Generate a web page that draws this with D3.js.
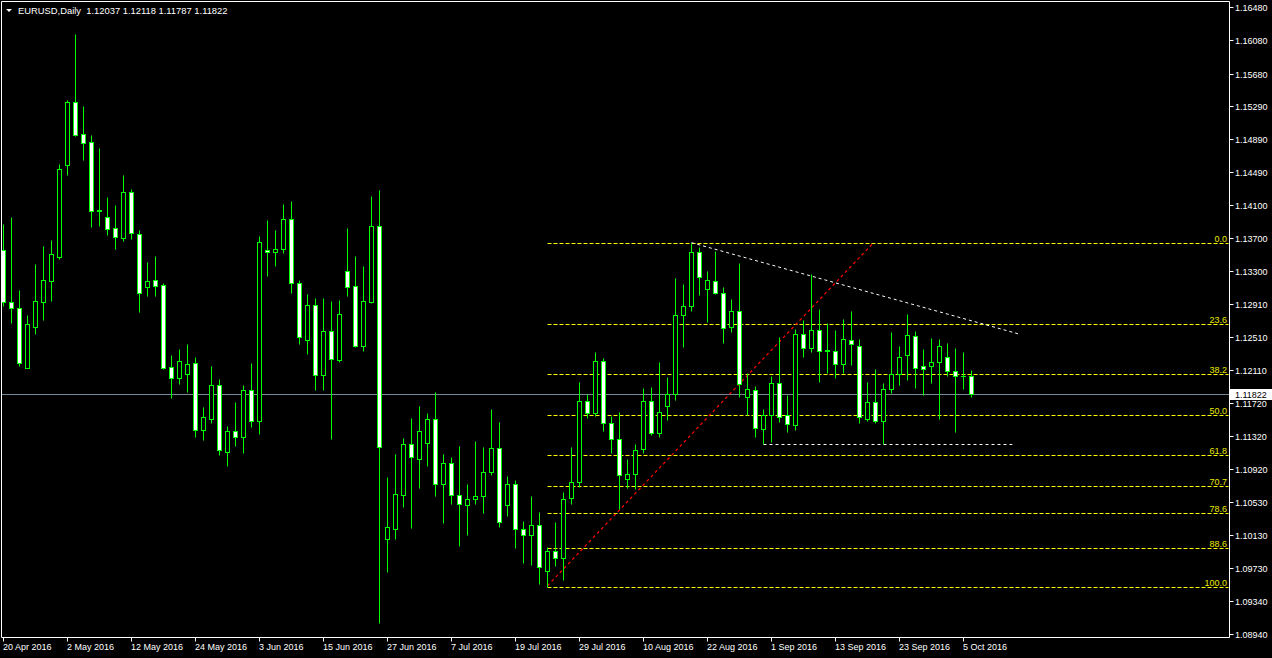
<!DOCTYPE html>
<html>
<head>
<meta charset="utf-8">
<script src="https://cdn.jsdelivr.net/npm/d3@7"></script>
<style>
html,body{margin:0;padding:0;background:#000;overflow:hidden;}
svg{display:block;}
text{font-family:"Liberation Sans",Arial,sans-serif;font-size:9px;}
</style>
</head>
<body>
<script>
// ---------- DATA (EURUSD Daily, 20 Apr 2016 .. 6 Oct 2016) ----------
const symbolTitle = "EURUSD,Daily";
const lastQuote = ["1.12037","1.12118","1.11787","1.11822"];

const openP = [
1.13558,1.12929,1.12857,1.12142,1.12628,1.12936,1.13189,1.13477,1.14583,1.15334,
1.14949,1.14853,1.14039,1.13951,1.13819,1.13706,1.14252,1.13747,1.13109,1.13193,
1.13133,1.12147,1.12015,1.12070,1.12195,1.11389,1.11529,1.11931,1.11125,1.11377,
1.11305,1.11870,1.11498,1.13554,1.13530,1.13566,1.13927,1.13157,1.12479,1.12893,
1.12058,1.12580,1.12239,1.13302,1.13121,1.12407,1.12936,1.13843,1.10086,1.10207,
1.10615,1.11221,1.11048,1.11233,1.11522,1.10740,1.10993,1.10608,1.10488,1.10560,
1.10596,1.10885,1.11173,1.10488,1.10740,1.10199,1.10127,1.10247,1.09694,1.09935,
1.09851,1.10572,1.10765,1.11738,1.11594,1.12220,1.11474,1.11281,1.10801,1.10861,
1.11161,1.11738,1.11353,1.11678,1.11823,1.12773,1.12881,1.13530,1.13085,1.13181,
1.13037,1.12628,1.12821,1.11786,1.11870,1.11409,1.11570,1.11955,1.11570,1.11457,
1.12544,1.12376,1.12592,1.12352,1.12340,1.12183,1.12472,1.12400,1.11522,1.11726,
1.11498,1.11882,1.12063,1.12291,1.12520,1.12159,1.12159,1.12207,1.12267,1.12099,
1.12039,1.12037];
const highP = [
1.13870,1.13955,1.13077,1.12776,1.13389,1.13606,1.13678,1.14592,1.15362,1.16155,
1.15289,1.14941,1.14784,1.14195,1.14099,1.14460,1.14291,1.13798,1.13413,1.13485,
1.13161,1.12295,1.12367,1.12427,1.12271,1.11666,1.12163,1.12007,1.11441,1.11730,
1.11934,1.12199,1.13726,1.13919,1.13798,1.14111,1.14147,1.13202,1.13029,1.12981,
1.12981,1.12945,1.12957,1.13822,1.13485,1.13365,1.14207,1.14279,1.10828,1.11105,
1.11297,1.11538,1.11682,1.11598,1.11850,1.11105,1.11069,1.11201,1.10744,1.11261,
1.11189,1.11646,1.11489,1.10840,1.10792,1.10303,1.10600,1.10407,1.09986,1.10287,
1.10648,1.11189,1.11970,1.11823,1.12331,1.12259,1.11562,1.11610,1.11045,1.11225,
1.11898,1.11910,1.12211,1.12031,1.13221,1.13149,1.13646,1.13590,1.13302,1.13546,
1.13109,1.12969,1.13402,1.12075,1.11922,1.11646,1.12043,1.12512,1.11814,1.12604,
1.12716,1.13269,1.12848,1.12680,1.12596,1.12728,1.12824,1.12487,1.11970,1.12127,
1.11958,1.12572,1.12403,1.12788,1.12584,1.12367,1.12500,1.12487,1.12439,1.12379,
1.12331,1.12118];
const lowP = [
1.12884,1.12684,1.12166,1.12139,1.12551,1.12716,1.12945,1.13450,1.14463,1.14929,
1.14640,1.13838,1.13846,1.13738,1.13570,1.13670,1.13690,1.12816,1.13008,1.13008,
1.12127,1.11782,1.11950,1.11854,1.11312,1.11277,1.11481,1.11093,1.10964,1.11204,
1.11120,1.11433,1.11349,1.13249,1.13365,1.13525,1.13045,1.12428,1.12311,1.11874,
1.11874,1.11289,1.12211,1.13004,1.12395,1.12347,1.12921,1.09076,1.09686,1.10086,
1.10471,1.10219,1.10699,1.10964,1.10603,1.10279,1.10507,1.10002,1.10134,1.10500,
1.10399,1.10856,1.10231,1.10363,1.09978,1.09798,1.09774,1.09545,1.09505,1.09762,
1.09593,1.10507,1.10712,1.11541,1.11565,1.11381,1.11117,1.10443,1.10699,1.10687,
1.11113,1.11333,1.11305,1.11517,1.11758,1.12395,1.12828,1.13020,1.12696,1.13025,
1.12436,1.12575,1.11794,1.11570,1.11305,1.11221,1.11249,1.11493,1.11373,1.11393,
1.12271,1.12331,1.11970,1.12079,1.12019,1.12079,1.12175,1.11481,1.11498,1.11481,
1.11221,1.11834,1.11931,1.11995,1.11895,1.11811,1.11955,1.11522,1.12039,1.11366,
1.11882,1.11787];
const closeP = [
1.12936,1.12857,1.12199,1.12668,1.12941,1.13197,1.13506,1.14528,1.15334,1.14941,
1.14848,1.14030,1.14027,1.13807,1.13711,1.14252,1.13759,1.13037,1.13181,1.13129,
1.12142,1.12015,1.12220,1.12183,1.11389,1.11546,1.11931,1.11149,1.11377,1.11305,
1.11870,1.11498,1.13650,1.13530,1.13566,1.13927,1.13157,1.12508,1.12893,1.12051,
1.12580,1.12244,1.12785,1.13109,1.12407,1.12941,1.13843,1.11193,1.10223,1.10624,
1.11221,1.11065,1.11377,1.11522,1.10740,1.10993,1.10608,1.10500,1.10560,1.10596,
1.10885,1.11173,1.10284,1.10740,1.10199,1.10127,1.10247,1.09750,1.09935,1.09851,
1.10560,1.10765,1.11738,1.11594,1.12220,1.11474,1.11281,1.10849,1.10861,1.11149,
1.11738,1.11353,1.11606,1.11823,1.12773,1.12881,1.13530,1.13229,1.13193,1.13037,
1.12616,1.12821,1.11943,1.11882,1.11414,1.11570,1.11955,1.11546,1.11462,1.12544,
1.12376,1.12592,1.12340,1.12340,1.12183,1.12484,1.12424,1.11546,1.11726,1.11498,
1.11882,1.12063,1.12267,1.12532,1.12135,1.12123,1.12207,1.12400,1.12099,1.12039,
1.12039,1.11822];

// date labels, one every 8 bars
const xTickLabels = ["20 Apr 2016","2 May 2016","12 May 2016","24 May 2016","3 Jun 2016",
  "15 Jun 2016","27 Jun 2016","7 Jul 2016","19 Jul 2016","29 Jul 2016","10 Aug 2016",
  "22 Aug 2016","1 Sep 2016","13 Sep 2016","23 Sep 2016","5 Oct 2016"];
const xTickStep = 8;

const yTickLabels = ["1.16480","1.16080","1.15680","1.15290","1.14890","1.14490","1.14100",
  "1.13700","1.13300","1.12910","1.12510","1.12110","1.11720","1.11320","1.10920","1.10530",
  "1.10130","1.09730","1.09340","1.08940"];

const currentPrice = 1.11822;

// Fibonacci retracement anchors (bar index, price)
const fibLow = [68, 1.09505];
const fibHigh = [86, 1.13646];
const fibLevels = [0.0, 23.6, 38.2, 50.0, 61.8, 70.7, 78.6, 88.6, 100.0];
const fibLabels = ["0.0","23.6","38.2","50.0","61.8","70.7","78.6","88.6","100.0"];

// trend lines: [[bar, price],[bar, price]]
const redTrend = [[68, 1.09520], [108.7, 1.13640]];
const whiteTrend = [[86, 1.13646], [126.8, 1.12551]];
const whiteSupport = [[95, 1.11221], [126.1, 1.11221]];

// ---------- DRAW ----------
const W = 1272, H = 658;
const plotR = 1229.5, plotB = 637.5;

const svg = d3.select("body").append("svg").attr("width", W).attr("height", H);
svg.append("rect").attr("width", W).attr("height", H).attr("fill", "#000");

const y = d3.scaleLinear().domain([1.0894, 1.1648]).range([634, 7]);
const x = d3.scaleLinear().domain([0, 1]).range([3.5, 11.5]);
const py = v => Math.round(y(v)) + 0.5;

svg.append("clipPath").attr("id", "plot").append("rect")
  .attr("x", 2).attr("y", 2).attr("width", plotR - 2).attr("height", plotB - 2);
const g = svg.append("g").attr("clip-path", "url(#plot)");

// current price line
g.append("line").attr("x1", 0).attr("x2", plotR).attr("y1", py(currentPrice)).attr("y2", py(currentPrice))
  .attr("stroke", "#778899").attr("stroke-width", 1);

// Fibonacci levels
const fibRange = fibHigh[1] - fibLow[1];
const fibX0 = x(Math.min(fibLow[0], fibHigh[0]));
fibLevels.forEach((lv, i) => {
  const p = fibHigh[1] - fibRange * lv / 100;
  g.append("line").attr("x1", fibX0).attr("x2", plotR - 1).attr("y1", py(p)).attr("y2", py(p))
    .attr("stroke", "#ffff00").attr("stroke-width", 1).attr("stroke-dasharray", "4,2");
  g.append("text").attr("x", 1227).attr("y", py(p) - 2).attr("text-anchor", "end")
    .attr("fill", "#e8e800").text(fibLabels[i]);
});

// trend lines
const line = d3.line().x(d => x(d[0])).y(d => y(d[1]));
g.append("path").attr("d", line(redTrend)).attr("fill", "none")
  .attr("stroke", "#ff0000").attr("stroke-width", 1.2).attr("stroke-dasharray", "3,3");
g.append("path").attr("d", line(whiteTrend)).attr("fill", "none")
  .attr("stroke", "#ffffff").attr("stroke-width", 1).attr("stroke-dasharray", "3,3");
g.append("path").attr("d", line(whiteSupport)).attr("fill", "none")
  .attr("stroke", "#ffffff").attr("stroke-width", 1).attr("stroke-dasharray", "3,3")
  .attr("transform", "translate(0," + (py(whiteSupport[0][1]) - y(whiteSupport[0][1])) + ")");

// candles
const bars = openP.map((o, i) => ({i, o, h: highP[i], l: lowP[i], c: closeP[i]}));
const cg = g.selectAll("g.c").data(bars).enter().append("g");
cg.append("line")
  .attr("x1", d => x(d.i)).attr("x2", d => x(d.i))
  .attr("y1", d => py(d.h)).attr("y2", d => py(d.l))
  .attr("stroke", "#00ff00").attr("stroke-width", 1);
cg.each(function(d) {
  const sel = d3.select(this);
  const top = py(Math.max(d.o, d.c)), bot = py(Math.min(d.o, d.c));
  const cx = x(d.i);
  if (bot - top < 1) {
    sel.append("line").attr("x1", cx - 2.5).attr("x2", cx + 2.5).attr("y1", top).attr("y2", top)
      .attr("stroke", "#00ff00").attr("stroke-width", 1);
  } else {
    sel.append("rect").attr("x", cx - 2).attr("y", top).attr("width", 4).attr("height", bot - top)
      .attr("fill", d.c > d.o ? "#000000" : "#ffffff")
      .attr("stroke", "#00ff00").attr("stroke-width", 1);
  }
});

// frame
svg.append("path")
  .attr("d", `M1.5,${plotB} L1.5,1.5 L${plotR},1.5 L${plotR},${plotB} Z`)
  .attr("fill", "none").attr("stroke", "#ffffff").attr("stroke-width", 1);

// right price axis
yTickLabels.forEach(t => {
  const v = +t;
  const yy = py(v);
  svg.append("line").attr("x1", plotR).attr("x2", plotR + 4).attr("y1", yy).attr("y2", yy)
    .attr("stroke", "#fff");
  svg.append("text").attr("x", 1235).attr("y", yy).attr("dy", "0.35em").attr("fill", "#fff").text(t);
});

// current price label
const cpy = py(currentPrice);
svg.append("rect").attr("x", 1230).attr("y", cpy - 5.5).attr("width", 42).attr("height", 11).attr("fill", "#fff");
svg.append("text").attr("x", 1235).attr("y", cpy).attr("dy", "0.35em").attr("fill", "#000").text(currentPrice.toFixed(5));

// bottom time axis
xTickLabels.forEach((t, j) => {
  const xx = Math.round(x(j * xTickStep) - 0.5) + 0.5;
  svg.append("line").attr("x1", xx).attr("x2", xx).attr("y1", plotB).attr("y2", plotB + 4).attr("stroke", "#fff");
  svg.append("text").attr("x", xx - 0.5).attr("y", 650).attr("fill", "#fff").text(t);
});

// title
svg.append("path").attr("d", "M6,9 L12,9 L9,12 Z").attr("fill", "#fff");
svg.append("text").attr("x", 18).attr("y", 14).attr("fill", "#fff")
  .style("font-size", "9.4px").style("white-space", "pre")
  .text(symbolTitle + "  " + lastQuote.join(" "));
</script>
</body>
</html>
